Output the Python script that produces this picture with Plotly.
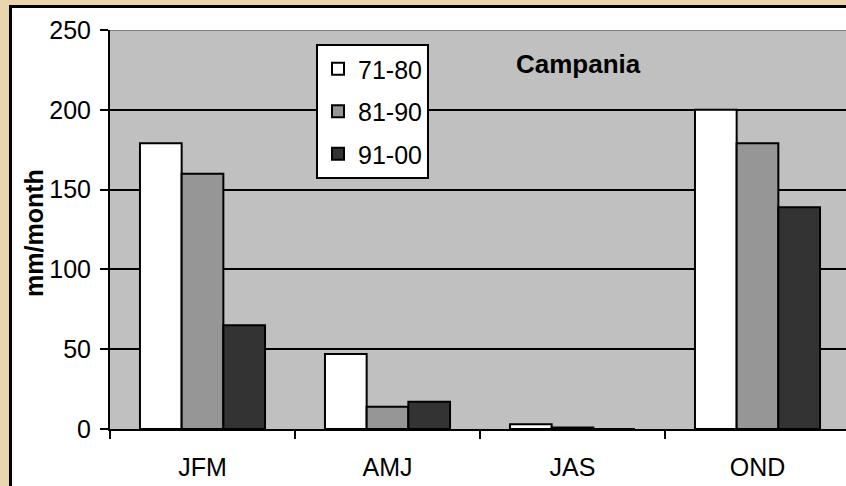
import plotly.graph_objects as go

# Seasonal precipitation, Campania (mm/month)
categories = ["JFM", "AMJ", "JAS", "OND"]
decade_labels = ["71-80", "81-90", "91-00"]
values_7180 = [179, 47, 3, 200]
values_8190 = [160, 14, 1, 179]
values_9100 = [65, 17, 0, 139]
y_ticks = [0, 50, 100, 150, 200, 250]

W, H = 846, 486
L, R, T, B = 110, 0, 30, 57
PW, PH = W - L - R, H - T - B


def px_x(px):
    return (px - L) / PW


def px_y(py):
    return (H - B - py) / PH


FONT = "Arial, Liberation Sans, sans-serif"
BEIGE = "#E9D6AC"

fig = go.Figure()
series = [values_7180, values_8190, values_9100]
fills = ["#FFFFFF", "#969696", "#333333"]
for name, vals, col in zip(decade_labels, series, fills):
    fig.add_trace(go.Bar(
        x=categories, y=vals, name=name, legendgroup=name,
        marker=dict(color=col, line=dict(color="#000000", width=2)),
    ))

shapes = [
    # outer beige frame and black border
    dict(type="rect", xref="paper", yref="paper", layer="above",
         x0=px_x(-5), x1=px_x(9), y0=px_y(600), y1=px_y(-5),
         fillcolor=BEIGE, line=dict(width=0)),
    dict(type="rect", xref="paper", yref="paper", layer="above",
         x0=px_x(-5), x1=px_x(900), y0=px_y(5), y1=px_y(-5),
         fillcolor=BEIGE, line=dict(width=0)),
    dict(type="line", xref="paper", yref="paper", layer="above",
         x0=px_x(10.5), x1=px_x(10.5), y0=px_y(600), y1=px_y(6.5),
         line=dict(color="#000000", width=3)),
    dict(type="line", xref="paper", yref="paper", layer="above",
         x0=px_x(9), x1=px_x(900), y0=px_y(6.5), y1=px_y(6.5),
         line=dict(color="#000000", width=3)),
    # plot area top border
    dict(type="line", xref="paper", yref="y", layer="above",
         x0=0, x1=1, y0=250, y1=250,
         line=dict(color="#808080", width=2)),
]

annotations = [
    dict(text="<b>Campania</b>", xref="paper", yref="paper",
         x=px_x(578.5), y=px_y(64), xanchor="center", yanchor="middle",
         showarrow=False, font=dict(family=FONT, size=26, color="#000000")),
    dict(text="<b>mm/month</b>", xref="paper", yref="paper",
         x=px_x(34), y=px_y(233), xanchor="center", yanchor="middle",
         textangle=-90, showarrow=False,
         font=dict(family=FONT, size=25, color="#000000")),
]

fig.update_layout(
    width=W, height=H,
    margin=dict(l=L, r=R, t=T, b=B, pad=0),
    paper_bgcolor="#FFFFFF",
    plot_bgcolor="#C0C0C0",
    barmode="group",
    bargap=0.324,
    bargroupgap=0,
    font=dict(family=FONT, size=25, color="#000000"),
    showlegend=True,
    legend=dict(
        x=px_x(316), y=px_y(44), xanchor="left", yanchor="top",
        bgcolor="#FFFFFF", bordercolor="#000000", borderwidth=2,
        font=dict(family=FONT, size=25, color="#000000"),
        itemwidth=30, traceorder="grouped", tracegroupgap=7,
    ),
    shapes=shapes,
    annotations=annotations,
)

fig.update_xaxes(
    type="category",
    range=[-0.5, 3.5 - 4 / 185],
    showline=True, linecolor="#000000", linewidth=2,
    ticks="outside", tickson="boundaries", ticklen=8, tickwidth=2,
    tickcolor="#000000", showgrid=False,
    ticklabelstandoff=15,
    tickfont=dict(family=FONT, size=25),
)
fig.update_yaxes(
    range=[0, 250], tickvals=y_ticks,
    showline=True, linecolor="#000000", linewidth=2,
    ticks="outside", ticklen=8, tickwidth=2, tickcolor="#000000",
    showgrid=True, gridcolor="#000000", gridwidth=1.5,
    zeroline=False,
    ticklabelstandoff=4,
    tickfont=dict(family=FONT, size=25),
)

fig.write_html("out.html")
